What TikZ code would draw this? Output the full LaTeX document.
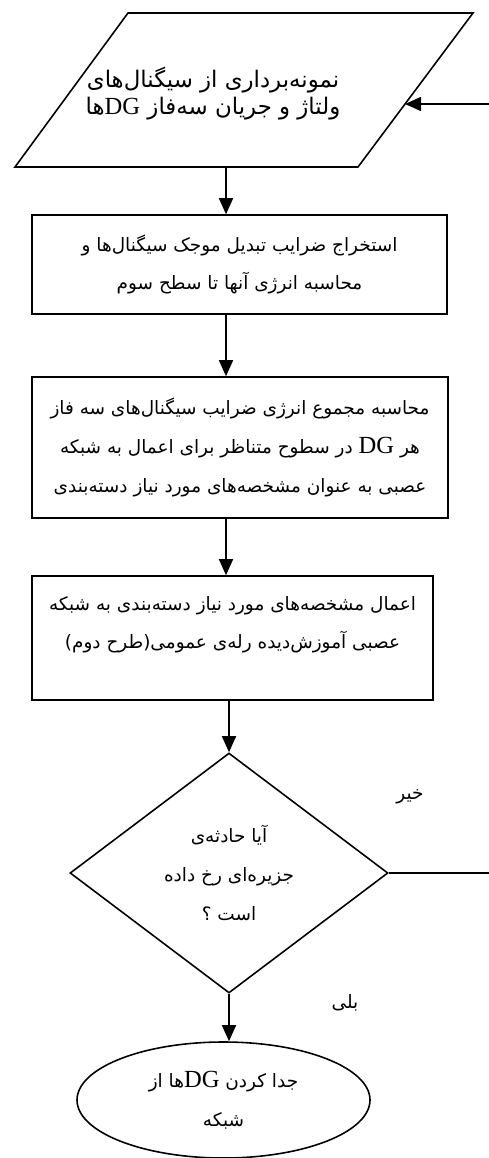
\documentclass[tikz,border=0pt]{standalone}
\usepackage{fontspec}
\setmainfont{Liberation Serif}
\newfontfamily\farsi[Script=Arabic]{DejaVu Sans}
\TeXXeTstate=1
\usetikzlibrary{shapes.geometric,arrows.meta}
\newcommand{\rl}[1]{\beginR #1\endR}
\newcommand{\DG}{\beginL{\rmfamily\fontsize{14}{14}\selectfont DG}\endL}
\begin{document}
\begin{tikzpicture}[>={Triangle[length=3.2mm,width=2.8mm]}, line width=0.9pt,
        every node/.style={font=\farsi\fontsize{10.5}{22}\selectfont, align=center}]
        \useasboundingbox (0,0) rectangle (9.76,-23.16);

        % input parallelogram
        \coordinate (in-tl) at (2.56,-0.26);
        \coordinate (in-tr) at (9.46,-0.26);
        \coordinate (in-br) at (7.16,-3.34);
        \coordinate (in-bl) at (0.30,-3.34);
        \coordinate (in-out) at (4.52,-3.34);
        \coordinate (in-east) at (8.10,-2.08);
        \draw (in-bl) -- (in-br) -- (in-tr) -- (in-tl) -- cycle;
        \node[font=\farsi\fontsize{13}{15}\selectfont] at (4.26,-1.87) (sample)
            {\rl{نمونه^^^^200cبرداری از سیگنال^^^^200cهای}\\
             \rl{ولتاژ و جریان سه^^^^200cفاز \DG ها}};

        \node[draw, minimum width=8.30cm, minimum height=1.98cm] at (4.79,-5.29) (extract)
            {\rl{استخراج ضرایب تبدیل موجک سیگنال^^^^200cها و}\\
             \rl{محاسبه انرژی آنها تا سطح سوم}};
        \node[draw, minimum width=8.32cm, minimum height=2.82cm] at (4.80,-8.95) (energy)
            {\rl{محاسبه مجموع انرژی ضرایب سیگنال^^^^200cهای سه فاز}\\
             \rl{هر \DG{} در سطوح متناظر برای اعمال به شبکه}\\
             \rl{عصبی به عنوان مشخصه^^^^200cهای مورد نیاز دسته^^^^200cبندی}};
        \node[draw, minimum width=8.02cm, minimum height=2.48cm, text depth=0.62cm] at (4.65,-12.76) (apply)
            {\rl{اعمال مشخصه^^^^200cهای مورد نیاز دسته^^^^200cبندی به شبکه}\\
             \rl{عصبی آموزش^^^^200cدیده رله^^^^200cی عمومی(طرح دوم)}};
        \node[draw, diamond, aspect=1.325, inner sep=0pt, minimum width=6.36cm, minimum height=4.80cm]
            at (4.58,-17.46) (island)
            {\rl{آیا حادثه^^^^200cی}\\ \rl{جزیره^^^^200cای رخ داده}\\ \rl{است ؟}};
        \node[draw, ellipse, inner sep=0pt, minimum width=5.86cm, minimum height=2.32cm]
            at (4.47,-22.0) (detach)
            {\rl{جدا کردن \DG ها از}\\ \rl{شبکه}};

        \node at (8.20,-15.94) (no)  {\rl{خیر}};
        \node at (6.90,-20.06) (yes) {\rl{بلی}};

        % flow arrows
        \draw[->] (in-out) -- (in-out |- extract.north);
        \draw[->] (extract.south -| in-out) -- (energy.north -| in-out);
        \draw[->] (energy.south -| in-out) -- (apply.north -| in-out);
        \draw[->] (apply.south -| island.north) -- (island.north);
        \draw[->] (island.south) -- (detach.north -| island.south);

        % back to sampling
        \coordinate (loop) at (9.90,-2.08);
        \draw[->] (island.east) -- (island.east -| loop) -- (loop) -- (in-east);

    \end{tikzpicture}
\end{document}
